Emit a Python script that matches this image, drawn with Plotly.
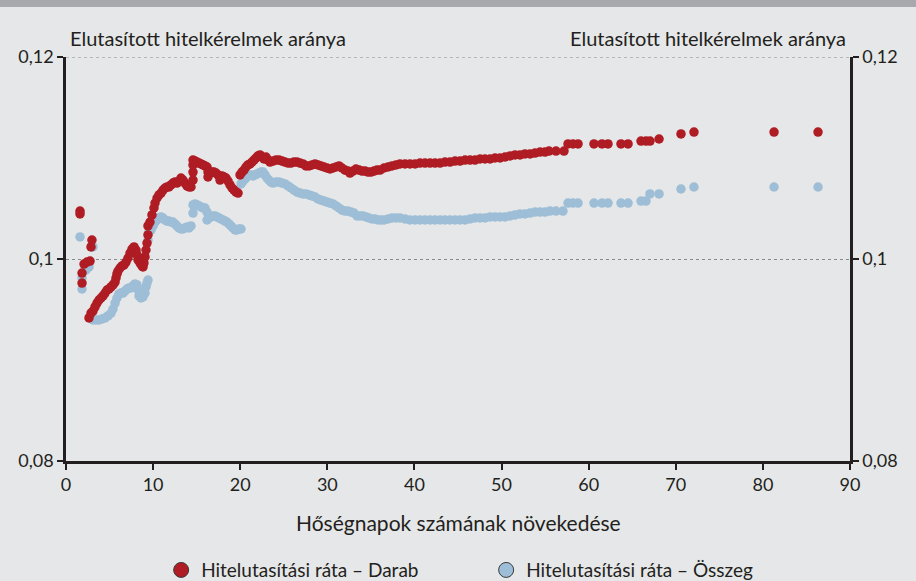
import plotly.graph_objects as go

# ---- data ----
darab_x = [1.61, 1.61, 1.84, 1.84, 2.07, 2.41, 2.76, 2.87, 2.98,
           2.64, 2.87, 3.10, 3.33, 3.56, 3.79, 4.02, 4.25, 4.48, 4.71, 4.94, 5.17, 5.40, 5.63, 5.74, 5.85, 5.97,
           6.20, 6.43, 6.66, 6.89, 7.12, 7.35, 7.58, 7.81, 8.04, 8.15, 8.27, 8.50, 8.72, 8.84, 8.95, 9.07, 9.18,
           9.30, 9.41, 9.41, 9.64, 9.87, 10.10, 10.22, 10.45, 10.68, 10.91, 11.14, 11.37, 11.59, 11.82, 12.05,
           12.28, 12.51, 12.74, 12.97, 13.20, 13.43, 13.66, 13.89, 14.12, 14.35, 14.58, 14.58, 14.58, 14.58,
           14.81, 15.04, 15.27, 15.50, 15.73, 15.96, 16.19, 16.30, 16.30, 16.53, 16.76, 16.99, 17.22, 17.45,
           17.68, 17.91, 18.14, 18.37, 18.60, 18.83, 19.06, 19.29, 19.52, 19.75,
           19.98, 20.20, 20.43, 20.66, 20.89, 21.12, 21.35, 21.58, 21.81, 22.04, 22.27, 22.50, 22.73, 22.96,
           23.19, 23.42, 23.76, 24.11, 24.45, 24.80, 25.14, 25.49, 25.83, 26.17, 26.52, 26.86, 27.21, 27.55,
           27.90, 28.24, 28.59, 28.93, 29.27, 29.62, 29.96, 30.31, 30.65, 31.00, 31.34, 31.68, 32.03, 32.37,
           32.60, 32.95, 33.29, 33.64, 33.98, 34.33, 34.67, 35.01, 35.36, 35.70, 36.05, 36.51, 36.97, 37.42,
           37.88, 38.34, 38.92, 39.49, 40.07, 40.64, 41.21, 41.79, 42.36, 42.94, 43.51, 44.08, 44.66, 45.23,
           45.81, 46.38, 46.95, 47.53, 48.10, 48.68, 49.25, 49.82, 50.40, 50.97, 51.55, 52.12, 52.69, 53.27,
           53.84, 54.42, 54.99, 55.45, 56.25, 57.17, 57.63, 58.20, 58.78, 60.61, 61.53, 62.22, 63.71, 64.52,
           66.01, 66.58, 67.04, 68.08, 70.60, 72.09, 81.28, 86.33]
darab_y = [0.10475, 0.10446, 0.09861, 0.09762, 0.09950, 0.09970, 0.09980, 0.10119, 0.10188,
           0.09416, 0.09465, 0.09485, 0.09525, 0.09564, 0.09594, 0.09614, 0.09634, 0.09663, 0.09693, 0.09703,
           0.09723, 0.09743, 0.09772, 0.09812, 0.09852, 0.09881,
           0.09911, 0.09931, 0.09941, 0.09970, 0.10010, 0.10059, 0.10099, 0.10119, 0.10089, 0.10040, 0.09990,
           0.09960, 0.09931, 0.09921, 0.09960, 0.10020, 0.10089,
           0.10158, 0.10238, 0.10327, 0.10366, 0.10436, 0.10505, 0.10554, 0.10604, 0.10634, 0.10653, 0.10683,
           0.10703, 0.10713, 0.10713, 0.10733,
           0.10752, 0.10762, 0.10752, 0.10772, 0.10802, 0.10782, 0.10752, 0.10723, 0.10713, 0.10713, 0.10782,
           0.10861, 0.10931, 0.10980,
           0.10970, 0.10960, 0.10950, 0.10941, 0.10931, 0.10921, 0.10911, 0.10861, 0.10812, 0.10851, 0.10861,
           0.10861, 0.10851, 0.10832,
           0.10782, 0.10822, 0.10812, 0.10802, 0.10772, 0.10733, 0.10703, 0.10683, 0.10663, 0.10653,
           0.10832, 0.10861, 0.10881, 0.10911, 0.10931, 0.10941, 0.10960, 0.10980, 0.11000, 0.11020, 0.11030,
           0.11010, 0.10990, 0.11010,
           0.10980, 0.10960, 0.10970, 0.10980, 0.10980, 0.10970, 0.10960, 0.10950, 0.10950, 0.10960, 0.10960,
           0.10950, 0.10941, 0.10921,
           0.10921, 0.10931, 0.10941, 0.10931, 0.10921, 0.10911, 0.10901, 0.10891, 0.10901, 0.10911, 0.10921,
           0.10901, 0.10881, 0.10871,
           0.10851, 0.10871, 0.10891, 0.10881, 0.10871, 0.10871, 0.10861, 0.10861, 0.10871, 0.10881, 0.10881,
           0.10901, 0.10911, 0.10921,
           0.10931, 0.10941, 0.10941, 0.10941, 0.10941, 0.10950, 0.10950, 0.10950, 0.10950, 0.10950, 0.10960,
           0.10960, 0.10970, 0.10970,
           0.10980, 0.10980, 0.10980, 0.10990, 0.10990, 0.10990, 0.11000, 0.11000, 0.11010, 0.11020, 0.11030,
           0.11030, 0.11040, 0.11040,
           0.11049, 0.11059, 0.11059, 0.11069, 0.11069, 0.11069, 0.11139, 0.11139, 0.11139, 0.11139, 0.11139,
           0.11139, 0.11139, 0.11139,
           0.11168, 0.11168, 0.11168, 0.11188, 0.11238, 0.11257, 0.11257, 0.11257]

osszeg_x = [1.61, 1.84, 1.84, 2.30, 2.64, 3.10,
            3.10, 3.44, 3.79, 4.13, 4.48, 4.82, 5.17, 5.40, 5.63, 5.85, 6.08, 6.31, 6.54, 6.77, 7.00, 7.23,
            7.46, 7.69, 7.92, 8.15, 8.27, 8.38, 8.61, 8.84, 9.07, 9.18, 9.30, 9.41,
            9.41, 9.53, 9.76, 9.99, 10.22, 10.45, 10.68, 10.91, 11.14, 11.37, 11.59, 11.82, 12.05, 12.28,
            12.51, 12.74, 12.97, 13.20, 13.43, 13.66, 13.89, 14.12, 14.35,
            14.58, 14.58, 14.81, 15.04, 15.27, 15.50, 15.73, 15.96, 16.19, 16.19, 16.42, 16.65, 16.88, 17.11,
            17.33, 17.56, 17.79, 18.02, 18.25, 18.48, 18.71, 18.94, 19.17, 19.40, 19.63, 19.86, 20.09,
            20.09, 20.32, 20.55, 20.78, 21.01, 21.24, 21.47, 21.70, 21.93, 22.16, 22.39, 22.62, 22.85, 23.07,
            23.30, 23.53, 23.76, 24.11, 24.45, 24.80, 25.14, 25.49, 25.83, 26.17, 26.52, 26.86, 27.21, 27.55,
            27.90, 28.24, 28.59, 28.93, 29.27, 29.62, 29.96, 30.31, 30.65, 31.00, 31.34, 31.68, 32.03, 32.37,
            32.72, 33.06, 33.41, 33.75, 34.10, 34.44, 34.78, 35.13, 35.47, 35.82, 36.16, 36.51, 36.97, 37.42,
            37.88, 38.34, 38.92, 39.49, 40.07, 40.64, 41.21, 41.79, 42.36, 42.94, 43.51, 44.08, 44.66, 45.23,
            45.81, 46.38, 46.95, 47.53, 48.10, 48.68, 49.25, 49.82, 50.40, 50.97, 51.55, 52.12, 52.69, 53.27,
            53.84, 54.42, 54.99, 55.56, 56.25, 57.05, 57.63, 58.20, 58.78, 60.61, 61.53, 62.22, 63.71, 64.52,
            66.01, 66.58, 67.04, 68.08, 70.60, 72.09, 81.28, 86.33]
osszeg_y = [0.10218, 0.09812, 0.09703, 0.09891, 0.09921, 0.10119,
            0.09396, 0.09396, 0.09396, 0.09406, 0.09416, 0.09436, 0.09465, 0.09505, 0.09564, 0.09614, 0.09654,
            0.09663, 0.09663, 0.09683, 0.09703, 0.09713,
            0.09713, 0.09733, 0.09753, 0.09743, 0.09693, 0.09634, 0.09614, 0.09624, 0.09663, 0.09723, 0.09762,
            0.09792,
            0.10188, 0.10267, 0.10287, 0.10327, 0.10366, 0.10386, 0.10406, 0.10416, 0.10406, 0.10386, 0.10376,
            0.10376, 0.10366, 0.10366,
            0.10347, 0.10327, 0.10307, 0.10297, 0.10297, 0.10307, 0.10317, 0.10307, 0.10327,
            0.10455, 0.10535, 0.10545, 0.10535, 0.10525, 0.10515, 0.10505, 0.10505, 0.10465, 0.10386, 0.10406,
            0.10416, 0.10426, 0.10426,
            0.10416, 0.10406, 0.10396, 0.10386, 0.10376, 0.10366, 0.10347, 0.10327, 0.10307, 0.10287, 0.10287,
            0.10297, 0.10297,
            0.10743, 0.10772, 0.10792, 0.10812, 0.10832, 0.10832, 0.10822, 0.10832, 0.10842, 0.10851, 0.10861,
            0.10861, 0.10832, 0.10802,
            0.10782, 0.10762, 0.10752, 0.10762, 0.10762, 0.10752, 0.10743, 0.10723, 0.10703, 0.10683, 0.10663,
            0.10653, 0.10644, 0.10644,
            0.10634, 0.10624, 0.10614, 0.10594, 0.10584, 0.10574, 0.10564, 0.10554, 0.10545, 0.10525, 0.10505,
            0.10485, 0.10475, 0.10475,
            0.10465, 0.10455, 0.10426, 0.10426, 0.10426, 0.10416, 0.10406, 0.10396, 0.10396, 0.10386, 0.10386,
            0.10386, 0.10396, 0.10406,
            0.10406, 0.10406, 0.10396, 0.10386, 0.10386, 0.10386, 0.10386, 0.10386, 0.10386, 0.10386, 0.10386,
            0.10386, 0.10386, 0.10386,
            0.10386, 0.10396, 0.10406, 0.10406, 0.10406, 0.10416, 0.10416, 0.10416, 0.10416, 0.10426, 0.10436,
            0.10446, 0.10446, 0.10455,
            0.10465, 0.10465, 0.10465, 0.10475, 0.10475, 0.10475, 0.10554, 0.10554, 0.10554, 0.10554, 0.10554,
            0.10554, 0.10554, 0.10554,
            0.10574, 0.10574, 0.10644, 0.10644, 0.10693, 0.10713, 0.10713, 0.10713]

series_names = ["Hitelutasítási ráta – Darab", "Hitelutasítási ráta – Összeg"]
y_title = "Elutasított hitelkérelmek aránya"
x_title = "Hőségnapok számának növekedése"
x_ticks = [0, 10, 20, 30, 40, 50, 60, 70, 80, 90]
y_ticks = [0.08, 0.10, 0.12]

RED = "#af1c24"
BLUE = "#9dbed6"
TXT = "#231f20"
BG = "#e6e7e8"
GRID = "#8a8a8a"
FONT = "Lato"

fig = go.Figure()
fig.add_trace(go.Scatter(x=osszeg_x, y=osszeg_y, mode="markers", showlegend=False,
                         marker=dict(color=BLUE, size=9.5, line=dict(width=0)), hoverinfo="x+y"))
fig.add_trace(go.Scatter(x=darab_x, y=darab_y, mode="markers", showlegend=False,
                         marker=dict(color=RED, size=9.5, line=dict(width=0)), hoverinfo="x+y"))
# legend entries (with outline, as in reference)
fig.add_trace(go.Scatter(x=[None], y=[None], mode="markers", name=series_names[0], yaxis="y2",
                         marker=dict(color=RED, size=15, line=dict(width=1, color="#3a3a3a")), legendrank=1))
fig.add_trace(go.Scatter(x=[None], y=[None], mode="markers", name=series_names[1], yaxis="y2",
                         marker=dict(color=BLUE, size=15, line=dict(width=1, color="#3a3a3a")), legendrank=2))

axis_common = dict(showline=True, linecolor=TXT, linewidth=2.5, ticks="outside", ticklen=6,
                   tickwidth=2, tickcolor=TXT, tickfont=dict(family=FONT, size=18, color=TXT),
                   zeroline=False, automargin=False)

fig.update_layout(
    width=916, height=581,
    paper_bgcolor=BG, plot_bgcolor=BG,
    margin=dict(l=66, r=66, t=57, b=120, autoexpand=False),
    separators=", ",
    font=dict(family=FONT, size=19, color=TXT),
    xaxis=dict(range=[0, 90], tickvals=x_ticks, showgrid=False, **axis_common),
    yaxis=dict(range=[0.08, 0.12], tickvals=y_ticks, showgrid=True, gridcolor=GRID,
               griddash="dot", gridwidth=1, **axis_common),
    yaxis2=dict(range=[0.08, 0.12], tickvals=y_ticks, overlaying="y", side="right", showgrid=False,
                **axis_common),
    legend=dict(orientation="h", x=0.5359, xanchor="center", y=-0.27, yanchor="middle",
                font=dict(family=FONT, size=19, color=TXT), entrywidth=280, bgcolor="rgba(0,0,0,0)"),
    showlegend=True,
    shapes=[
        dict(type="rect", xref="paper", yref="paper", x0=-0.1, x1=1.1, y0=1.1238, y1=1.2,
             fillcolor="#a7a9ac", line=dict(width=0), layer="below"),
        dict(type="line", xref="paper", yref="y", x0=0, x1=1, y0=y_ticks[-1], y1=y_ticks[-1],
             line=dict(color=GRID, width=1, dash="dot"), layer="below"),
    ],
    annotations=[
        dict(text=y_title, xref="paper", yref="paper", x=0.0026, y=1.047, xanchor="left", yanchor="middle",
             showarrow=False, font=dict(family=FONT, size=20, color=TXT)),
        dict(text=y_title, xref="paper", yref="paper", x=0.9974, y=1.047, xanchor="right", yanchor="middle",
             showarrow=False, font=dict(family=FONT, size=20, color=TXT)),
        dict(text=x_title, xref="paper", yref="paper", x=0.5, y=-0.151, xanchor="center", yanchor="middle",
             showarrow=False, font=dict(family=FONT, size=21, color=TXT)),
    ],
)

fig.write_html("out.html", config={"displayModeBar": False},
               post_script="document.body.style.margin='0';document.body.style.padding='0';"
                           "document.body.style.background='" + BG + "';")
